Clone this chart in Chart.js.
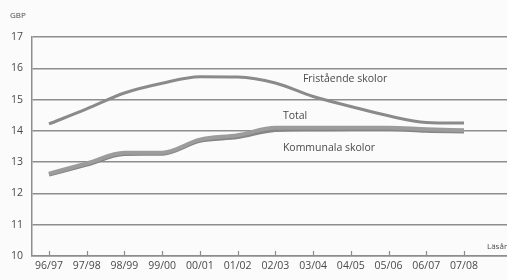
<!DOCTYPE html>
<html>
<head>
<meta charset="utf-8">
<script src="https://cdn.jsdelivr.net/npm/chart.js@4.4.1/dist/chart.umd.min.js"></script>
<style>
  html, body { margin: 0; padding: 0; background: #fbfbfb; }
  #wrap { width: 507px; height: 280px; position: relative; }
</style>
</head>
<body>
<div id="wrap"><canvas id="chart"></canvas></div>
<script>
// Läsår och kostnad (GBP)
const lasar = ['96/97', '97/98', '98/99', '99/00', '00/01', '01/02', '02/03', '03/04', '04/05', '05/06', '06/07', '07/08'];
const fristaende = [14.22, 14.7, 15.21, 15.52, 15.73, 15.72, 15.53, 15.1, 14.78, 14.48, 14.27, 14.25];
const total = [12.63, 12.96, 13.3, 13.3, 13.72, 13.86, 14.1, 14.1, 14.1, 14.1, 14.05, 14.02];
const kommunala = [12.6, 12.92, 13.26, 13.27, 13.68, 13.8, 14.03, 14.05, 14.06, 14.06, 14.0, 13.98];
const yTicks = [10, 11, 12, 13, 14, 15, 16, 17];

const textFarg = '#4a4a4a';
const linjeFarg = '#8d8d8d';
const font = { family: '"Open Sans", Arial, sans-serif', size: 10.5 };

function punkter(varden) {
  return varden.map((v, i) => ({ x: i, y: v }));
}

// Etiketter i diagrammet
const seriEtiketter = [
  { text: 'Fristående skolor', x: 6.73, y: 15.66 },
  { text: 'Total', x: 6.2, y: 14.48 },
  { text: 'Kommunala skolor', x: 6.2, y: 13.45 }
];

const etikettPlugin = {
  id: 'etiketter',
  afterDraw(chart) {
    const ctx = chart.ctx;
    const xs = chart.scales.x;
    const ys = chart.scales.y;
    ctx.save();
    ctx.fillStyle = textFarg;
    ctx.font = '10.5px "Open Sans", Arial, sans-serif';
    ctx.textBaseline = 'middle';
    ctx.textAlign = 'left';
    seriEtiketter.forEach(e => {
      ctx.fillText(e.text, xs.getPixelForValue(e.x), ys.getPixelForValue(e.y));
    });
    // enhet och axeltitel
    ctx.font = '8px "Open Sans", Arial, sans-serif';
    ctx.fillText('GBP', 10, 16);
    ctx.fillText('Läsår', 487, 247);
    // små streck uppåt vid varje läsår
    ctx.strokeStyle = linjeFarg;
    ctx.lineWidth = 1.2;
    const bas = chart.chartArea.bottom;
    xs.ticks.forEach((t, i) => {
      const px = Math.round(xs.getPixelForTick(i)) + 0.5;
      ctx.beginPath();
      ctx.moveTo(px, bas);
      ctx.lineTo(px, bas - 5);
      ctx.stroke();
    });
    ctx.restore();
  }
};

const linje = {
  pointRadius: 0,
  cubicInterpolationMode: 'monotone'
};

new Chart(document.getElementById('chart'), {
  type: 'line',
  data: {
    datasets: [
      Object.assign({
        label: 'Fristående skolor',
        data: punkter(fristaende),
        borderColor: '#8a8a8a',
        borderWidth: 3
      }, linje),
      Object.assign({
        label: 'Total',
        data: punkter(total),
        borderColor: '#9c9c9c',
        borderWidth: 4
      }, linje),
      Object.assign({
        label: 'Kommunala skolor',
        data: punkter(kommunala),
        borderColor: '#858585',
        borderWidth: 4
      }, linje)
    ]
  },
  options: {
    responsive: true,
    maintainAspectRatio: false,
    devicePixelRatio: 1,
    animation: false,
    layout: { padding: { top: 37, right: 0, left: 0, bottom: 0 } },
    plugins: {
      legend: { display: false },
      tooltip: { enabled: false }
    },
    scales: {
      x: {
        type: 'linear',
        min: -0.45,
        max: 12.14,
        afterBuildTicks: s => { s.ticks = lasar.map((_, i) => ({ value: i })); },
        afterFit: s => { s.height = 24; },
        ticks: {
          callback: v => lasar[v] || '',
          color: textFarg,
          font: font,
          padding: 4,
          maxRotation: 0,
          autoSkip: false
        },
        grid: { display: false, drawTicks: false },
        border: { display: true, color: linjeFarg, width: 1.5 }
      },
      y: {
        min: 10,
        max: 17,
        afterBuildTicks: s => { s.ticks = yTicks.map(v => ({ value: v })); },
        afterFit: s => { s.width = 32; },
        ticks: {
          color: textFarg,
          font: font,
          padding: 9
        },
        grid: { color: linjeFarg, lineWidth: 1.5, drawTicks: false },
        border: { display: true, color: linjeFarg, width: 1.5 }
      }
    }
  },
  plugins: [etikettPlugin]
});
</script>
</body>
</html>
